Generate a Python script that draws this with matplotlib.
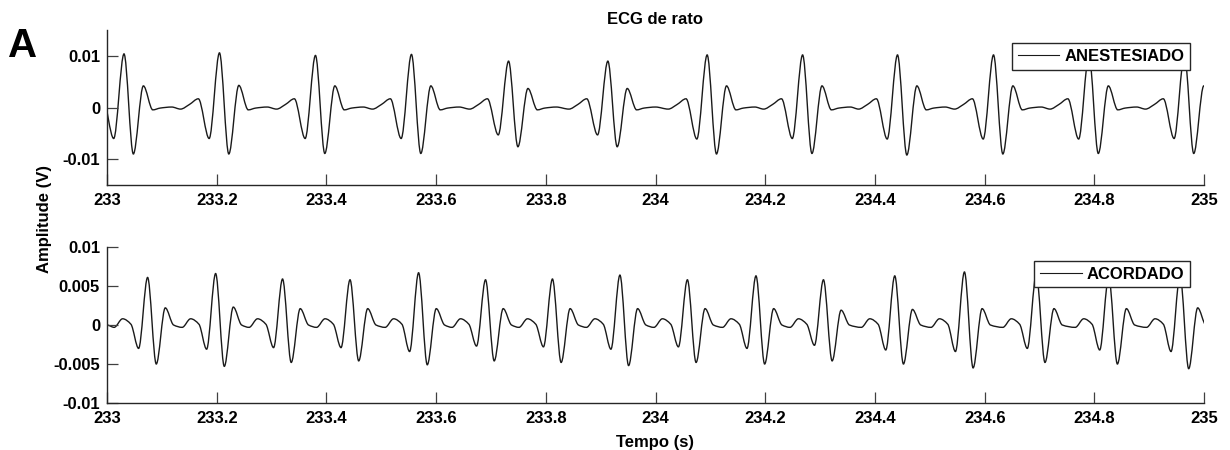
import numpy as np
import matplotlib
matplotlib.use("Agg")
import matplotlib.pyplot as plt
from matplotlib.path import Path
from matplotlib.patches import PathPatch
from matplotlib.lines import Line2D

plt.rcParams['font.family'] = ['Liberation Sans', 'DejaVu Sans']
plt.rcParams['font.weight'] = 'bold'

# eixo do tempo
x_ticks = [233.0, 233.2, 233.4, 233.6, 233.8, 234.0, 234.2, 234.4, 234.6, 234.8, 235.0]
x_tick_labels = ['233', '233.2', '233.4', '233.6', '233.8', '234', '234.2', '234.4', '234.6', '234.8', '235']

# ANESTESIADO - picos R
anest_r_time = [233.031, 233.205, 233.380, 233.555, 233.732, 233.913,
                234.094, 234.268, 234.441, 234.616, 234.790, 234.964]
anest_q_amp = [-0.0060, -0.0060, -0.0060, -0.0060, -0.0053, -0.0053,
               -0.0061, -0.0060, -0.0061, -0.0061, -0.0061, -0.0060]
anest_r_amp = [0.0104, 0.0106, 0.0101, 0.0103, 0.0090, 0.0090,
               0.0102, 0.0102, 0.0102, 0.0102, 0.0102, 0.0102]
anest_s_amp = [-0.0090, -0.0090, -0.0089, -0.0089, -0.0076, -0.0076,
               -0.0090, -0.0089, -0.0092, -0.0090, -0.0089, -0.0089]
anest_t_amp = [0.0042, 0.0043, 0.0042, 0.0042, 0.0037, 0.0037,
               0.0042, 0.0042, 0.0042, 0.0042, 0.0042, 0.0042]
# ondas menores (tempo relativo ao pico R, amplitude)
anest_pre_dt = [-0.071, -0.0547, -0.0385]
anest_pre_v = [-0.0003, 0.0006, 0.0017]
anest_qrst_dt = [-0.0188, 0.0, 0.017, 0.0353]
anest_post_dt = [0.0525, 0.066, 0.087]
anest_post_v = [-0.00045, -0.0001, 0.0001]

# ACORDADO
acord_r_time = [233.074, 233.198, 233.320, 233.443, 233.568, 233.690, 233.812, 233.935,
                234.058, 234.183, 234.306, 234.436, 234.563, 234.694, 234.826, 234.956]
acord_q_amp = [-0.0030, -0.0031, -0.0029, -0.0029, -0.0034, -0.0027, -0.0028, -0.0031,
               -0.0028, -0.0030, -0.0026, -0.0032, -0.0034, -0.0030, -0.0032, -0.0034]
acord_r_amp = [0.0061, 0.0066, 0.0059, 0.0058, 0.0067, 0.0058, 0.0059, 0.0064,
               0.0058, 0.0063, 0.0058, 0.0063, 0.0068, 0.0065, 0.0062, 0.0064]
acord_s_amp = [-0.0050, -0.0053, -0.0048, -0.0046, -0.0051, -0.0046, -0.0048, -0.0052,
               -0.0048, -0.0050, -0.0046, -0.0050, -0.0055, -0.0048, -0.0050, -0.0056]
acord_t_amp = [0.0022, 0.0023, 0.0021, 0.0021, 0.0021, 0.0021, 0.0021, 0.0021,
               0.0021, 0.0021, 0.0019, 0.0020, 0.0021, 0.0021, 0.0021, 0.0022]
acord_pre_dt = [-0.061, -0.0456, -0.0304]
acord_pre_v = [-0.0003, 0.0008, 0.0001]
acord_qrst_dt = [-0.0164, 0.0, 0.0158, 0.0322]
acord_post_dt = [0.0474]
acord_post_v = [0.0]
acord_start = (233.0, 0.0)


def build_knots(r_time, q, r, s, t, pre_dt, pre_v, qrst_dt, post_dt, post_v):
    """
    Junta os pontos lidos de cada batimento numa lista ordenada
    """
    xs, ys = [], []
    for i, rt in enumerate(r_time):
        xs += [rt + d for d in pre_dt]
        ys += list(pre_v)
        xs += [rt + d for d in qrst_dt]
        ys += [q[i], r[i], s[i], t[i]]
        xs += [rt + d for d in post_dt]
        ys += list(post_v)
    return np.array(xs), np.array(ys)


def smooth_path(x, y) -> Path:
    """
    Curva de Bezier cubica que passa pelos pontos (tangentes tipo pchip)
    """
    h = np.diff(x)
    d = np.diff(y) / h
    m = np.zeros_like(y)
    for k in range(1, len(x) - 1):
        if d[k - 1] * d[k] > 0:
            w1 = 2 * h[k] + h[k - 1]
            w2 = h[k] + 2 * h[k - 1]
            m[k] = (w1 + w2) / (w1 / d[k - 1] + w2 / d[k])
    verts = [(x[0], y[0])]
    codes = [Path.MOVETO]
    for k in range(len(x) - 1):
        verts += [(x[k] + h[k] / 3, y[k] + m[k] * h[k] / 3),
                  (x[k + 1] - h[k] / 3, y[k + 1] - m[k + 1] * h[k] / 3),
                  (x[k + 1], y[k + 1])]
        codes += [Path.CURVE4] * 3
    return Path(verts, codes)


def style_axes(ax, yticks, ylabels, ylim):
    ax.set_xlim(233, 235)
    ax.set_ylim(*ylim)
    ax.set_xticks(x_ticks, x_tick_labels)
    ax.set_yticks(yticks, ylabels)
    for side in ['top', 'right']:
        ax.spines[side].set_visible(False)
    for side in ['left', 'bottom']:
        ax.spines[side].set_color('#262626')
        ax.spines[side].set_linewidth(1.0)
    ax.tick_params(direction='in', length=8, width=0.9, color='#404040',
                   labelsize=12, pad=6)
    ax.tick_params(axis='y', pad=5)
    for lab in ax.get_xticklabels() + ax.get_yticklabels():
        lab.set_fontweight('bold')


line_color = '#1a1a1a'

fig = plt.figure(figsize=(12.3, 4.5), dpi=100)
ax_top = fig.add_axes([0.087, 0.589, 0.892, 0.344])
ax_bot = fig.add_axes([0.087, 0.1044, 0.892, 0.3467])

xa, ya = build_knots(anest_r_time, anest_q_amp, anest_r_amp, anest_s_amp, anest_t_amp,
                     anest_pre_dt, anest_pre_v, anest_qrst_dt, anest_post_dt, anest_post_v)
ax_top.add_patch(PathPatch(smooth_path(xa, ya), fill=False, edgecolor=line_color, lw=1.0))

xb, yb = build_knots(acord_r_time, acord_q_amp, acord_r_amp, acord_s_amp, acord_t_amp,
                     acord_pre_dt, acord_pre_v, acord_qrst_dt, acord_post_dt, acord_post_v)
xb = np.concatenate([[acord_start[0]], xb])
yb = np.concatenate([[acord_start[1]], yb])
ax_bot.add_patch(PathPatch(smooth_path(xb, yb), fill=False, edgecolor=line_color, lw=1.0))

style_axes(ax_top, [-0.01, 0, 0.01], ['-0.01', '0', '0.01'], (-0.015, 0.015))
style_axes(ax_bot, [-0.01, -0.005, 0, 0.005, 0.01],
           ['-0.01', '-0.005', '0', '0.005', '0.01'], (-0.01, 0.01))

leg_kw = dict(loc='upper right', borderaxespad=0, fancybox=False, framealpha=1,
              edgecolor='#262626', handlelength=2.5, handletextpad=0.3, borderpad=0.35,
              prop={'weight': 'bold', 'size': 12})
leg = ax_top.legend(handles=[Line2D([], [], color=line_color, lw=0.8, label='ANESTESIADO')],
                    bbox_to_anchor=(0.9872, 0.914), **leg_kw)
leg.get_frame().set_linewidth(1.0)
leg = ax_bot.legend(handles=[Line2D([], [], color=line_color, lw=0.8, label='ACORDADO')],
                    bbox_to_anchor=(0.9872, 0.912), **leg_kw)
leg.get_frame().set_linewidth(1.0)

fig.text(655 / 1230, 1 - 20 / 450, 'ECG de rato', ha='center', va='center',
         fontsize=12, fontweight='bold')
fig.text(655 / 1230, 1 - 442 / 450, 'Tempo (s)', ha='center', va='center',
         fontsize=12, fontweight='bold')
fig.text(45 / 1230, 1 - 219 / 450, 'Amplitude (V)', ha='center', va='center',
         rotation=90, fontsize=12, fontweight='bold')
fig.text(23 / 1230, 1 - 46 / 450, 'A', ha='center', va='center',
         fontsize=29, fontweight='bold')

fig.savefig('out.png', dpi=100)
